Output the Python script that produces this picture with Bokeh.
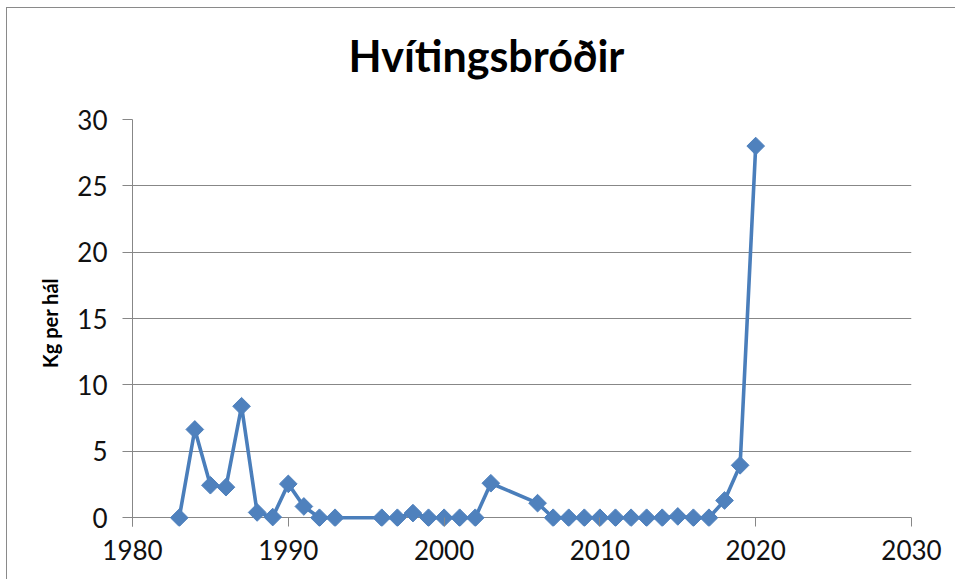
import math
from bokeh.plotting import figure
from bokeh.models import Range1d, FixedTicker, LinearAxis
from bokeh.embed import file_html
from bokeh.resources import INLINE

years = [1983, 1984, 1985, 1986, 1987, 1988, 1989, 1990, 1991, 1992, 1993,
         1996, 1997, 1998, 1999, 2000, 2001, 2002, 2003, 2006, 2007, 2008,
         2009, 2010, 2011, 2012, 2013, 2014, 2015, 2016, 2017, 2018, 2019, 2020]
kg_per_haul = [0.0, 6.65, 2.45, 2.3, 8.4, 0.4, 0.05, 2.55, 0.85, 0.0, 0.0,
               0.0, 0.0, 0.35, 0.0, 0.0, 0.0, 0.0, 2.6, 1.1, 0.0, 0.0,
               0.0, 0.0, 0.0, 0.0, 0.0, 0.0, 0.1, 0.0, 0.0, 1.3, 3.95, 28.0]
x_ticks = [1980, 1990, 2000, 2010, 2020, 2030]
y_ticks = [0, 5, 10, 15, 20, 25, 30]
title_text = "Hvítingsbróðir"
y_label = "Kg per hál"

GRID = "#878787"
BLUE_LINE = "#4A7EBB"
BLUE_FILL = "#4F81BD"
FONT = "Lato"

p = figure(width=949, height=572, output_backend="svg", toolbar_location=None,
           x_range=Range1d(1980, 2030), y_range=Range1d(-0.66, 30),
           min_border_left=125, min_border_right=45, min_border_top=111,
           min_border_bottom=54)
p.styles = {"margin-left": "6px", "margin-top": "7px",
            "border-left": "1px solid #8a8a8a", "border-top": "1px solid #8a8a8a"}
p.outline_line_color = None
p.background_fill_color = "white"
p.border_fill_color = "white"

p.title.text = title_text
p.title.text_font = FONT
p.title.text_font_style = "bold"
p.title.text_font_size = "43px"
p.title.text_color = "#000000"
p.title.align = "left"
p.title.offset = 216

xax = p.below[0]
yax = p.left[0]
xax.ticker = FixedTicker(ticks=x_ticks)
yax.ticker = FixedTicker(ticks=y_ticks)
for ax in (xax, yax):
    ax.minor_tick_line_color = None
    ax.axis_line_color = GRID
    ax.major_tick_line_color = GRID
    ax.major_label_text_font = FONT
    ax.major_label_text_font_size = "26px"
    ax.major_label_text_color = "#111111"
xax.axis_line_color = None
xax.major_tick_in = 9
xax.major_tick_out = 0
xax.major_label_standoff = 13
yax.major_tick_in = 0
yax.major_tick_out = 10
yax.major_label_standoff = 15

yax.axis_label = y_label
yax.axis_label_text_font = FONT
yax.axis_label_text_font_style = "bold"
yax.axis_label_text_font_size = "20px"
yax.axis_label_text_color = "#000000"
yax.axis_label_standoff = 12

p.xgrid.grid_line_color = None
p.ygrid.grid_line_color = GRID
p.ygrid.grid_line_width = 1

# invisible spacer between the title and the plot area
spacer_tick = [x_ticks[2]]
spacer = LinearAxis(ticker=FixedTicker(ticks=spacer_tick), axis_line_color=None,
                    major_tick_line_color=None, minor_tick_line_color=None,
                    major_tick_in=0, major_tick_out=34, minor_tick_out=0,
                    major_label_standoff=0, major_label_text_font_size="0px",
                    major_label_overrides={spacer_tick[0]: ""})
p.add_layout(spacer, "above")

p.line(years, kg_per_haul, line_color=BLUE_LINE, line_width=3.6)
p.scatter(years, kg_per_haul, marker="square", size=12.5, angle=math.pi / 4,
          fill_color=BLUE_FILL, line_color=BLUE_FILL)

open("out.html", "w").write(file_html(p, INLINE))
